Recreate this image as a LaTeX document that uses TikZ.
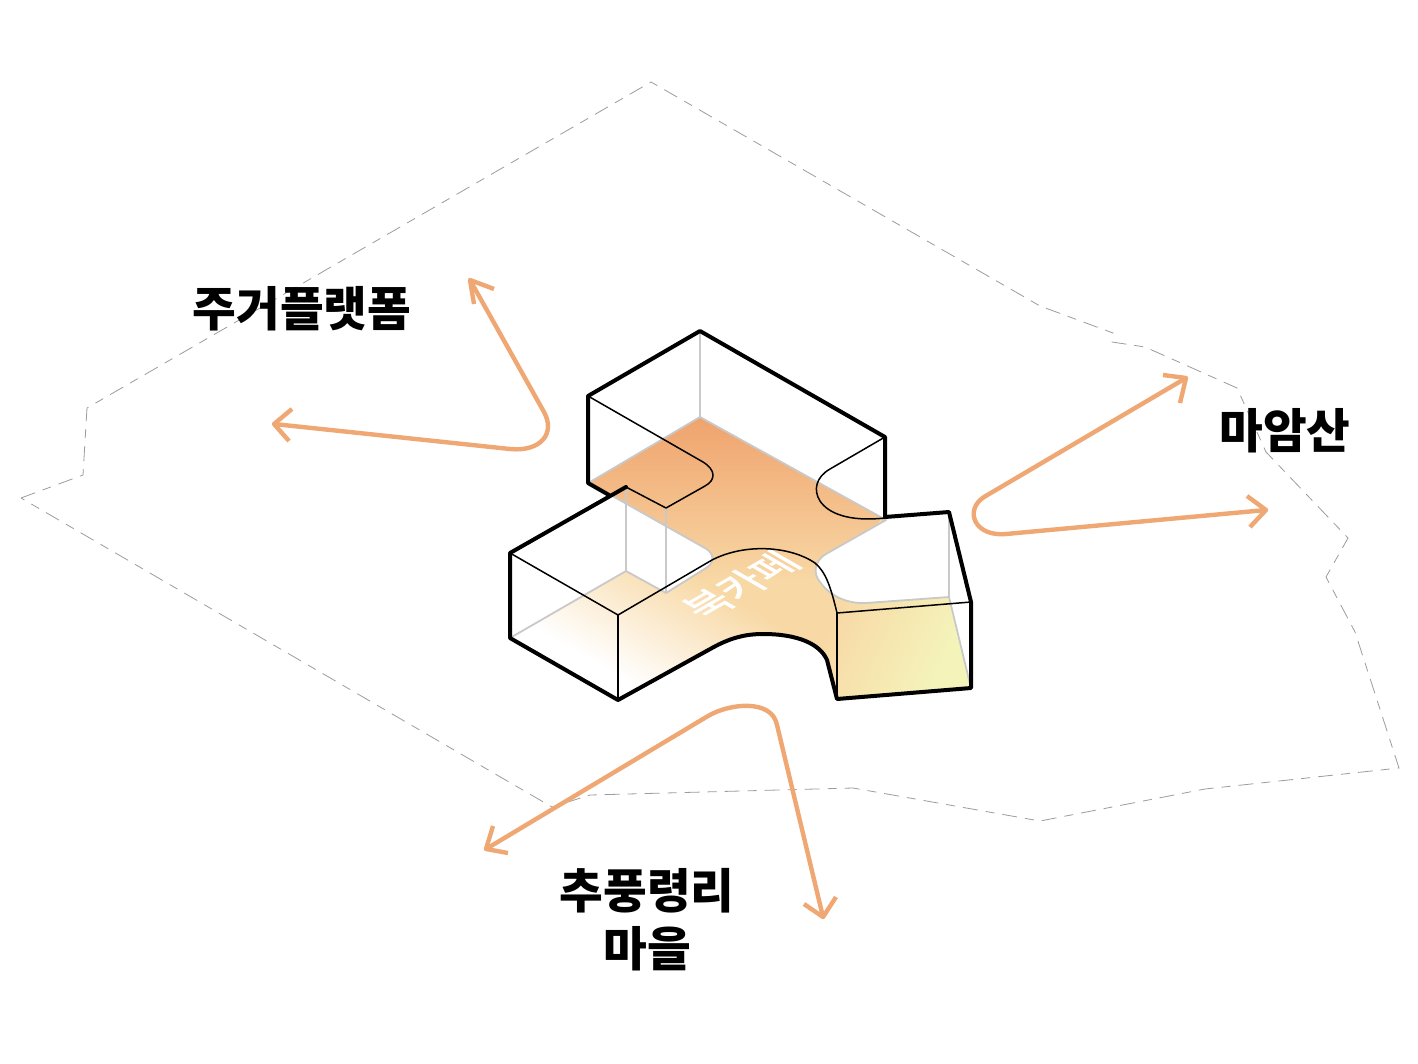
\documentclass[tikz,border=0pt]{standalone}
\usepackage{fontspec}
\newfontfamily\kr{Noto Sans CJK KR}
\newfontfamily\krm[FakeBold=1.5]{Noto Sans CJK KR}
\definecolor{arrowc}{HTML}{EFA873}
\definecolor{orangec}{HTML}{EFA16B}
\definecolor{floorc}{HTML}{F8D9A6}
\definecolor{yellowc}{HTML}{F4F4BA}
\definecolor{edgec}{HTML}{C9C9C9}
\definecolor{sitec}{HTML}{9C9C9C}
\tikzset{
  sitepath/.style={draw=sitec,line width=0.8pt,line join=miter,dash pattern=on 15pt off 8pt on 9pt off 8pt},
  flowpath/.style={draw=arrowc,line width=4.4pt,line join=round,line cap=butt},
  thickedge/.style={draw=black,line width=4pt,line join=round,line cap=round},
  thinedge/.style={draw=black,line width=1.5pt,line join=round,line cap=round},
  greyedge/.style={draw=edgec,line width=1.8pt,line join=round},
  bigtext/.style={font=\kr\bfseries\fontsize{47.5}{56}\selectfont,text=black,inner sep=0pt,align=center}
}
\begin{document}
\begin{tikzpicture}[x=1pt,y=-1pt]
\useasboundingbox (0,0) rectangle (1418,1063);
\fill[white] (0,0) rectangle (1418,1063);
% site boundary
\draw[sitepath] (21,498) -- (83,475) -- (87,408) -- (651,82) -- (1040,306) -- (1113,333) -- (1112,342) -- (1145,347) -- (1237,388) -- (1266,452) -- (1348,538) -- (1326,577) -- (1355,632) -- (1399,768) -- (1205,789) -- (1040,821) -- (853,788) -- (590,795) -- (552,807) -- cycle;
% flow arrows
\draw[flowpath] (470,280) -- (544,412) .. controls (556,434) and (540,452) .. (510,449) -- (274,424);
\draw[flowpath] (494,289) -- (470,280) -- (474,304);
\draw[flowpath] (292,409) -- (274,424) -- (289,441);
\draw[flowpath] (1186,378) -- (984,497) .. controls (964,510) and (974,537) .. (1006,534) -- (1266,510);
\draw[flowpath] (1163,375) -- (1186,378) -- (1180,403);
\draw[flowpath] (1247,496) -- (1266,510) -- (1250,527);
\draw[flowpath] (486,849) -- (708,716) .. controls (730,703) and (772,699) .. (777,725) -- (823,917);
\draw[flowpath] (493,826) -- (486,849) -- (508,853);
\draw[flowpath] (804,904) -- (823,917) -- (836,897);
% floor with gradients
\begin{scope}
\clip (700,417) -- (886,520) -- (826,554) .. controls (814,561) and (813,574) .. (820,582) .. controls (828,594) and (845,604) .. (866,603) -- (949,597) -- (971,688) -- (837,699) -- (827,660) .. controls (820,644) and (798,634) .. (763,634) .. controls (745,634) and (730,638) .. (712,648) -- (618,700) -- (510,638) -- (626,571) -- (666,593) -- (706,568) .. controls (716,562) and (714,552) .. (703,547) -- (590,482) -- cycle;
\fill[floorc] (480,400) rectangle (1000,720);
\shade[top color=orangec,bottom color=floorc] (480,411) rectangle (1000,583);
\fill[white,transform canvas={shift={(586pt,-586pt)},rotate=-30}] (-200,31) rectangle (200,170);
\shade[top color=floorc,bottom color=white,transform canvas={shift={(586pt,-586pt)},rotate=-30}] (-200,-62) rectangle (200,62);
\shade[left color=floorc,right color=yellowc,transform canvas={shift={(888pt,-645pt)},rotate=-25}] (-60,-110) rectangle (60,110);
\fill[yellowc,transform canvas={shift={(888pt,-645pt)},rotate=-25}] (59,-110) rectangle (180,110);
\end{scope}
% floor outline and hidden verticals
\draw[greyedge] (700,331) -- (700,417);
\draw[greyedge] (626,487) -- (626,571);
\draw[greyedge] (666,508) -- (666,593);
\draw[greyedge] (949,512) -- (949,597);
\draw[greyedge] (590,482) -- (700,417) -- (886,520) -- (826,554) .. controls (814,561) and (813,574) .. (820,582) .. controls (828,594) and (845,604) .. (866,603) -- (949,597) -- (971,688);
\draw[greyedge] (609,494) -- (703,547) .. controls (714,552) and (716,562) .. (706,568) -- (666,593) -- (626,571) -- (510,638);
% white label
\begin{scope}[shift={(741,585)},cm={0.866,0.5,-0.866,0.5,(0,0)}]
\node[transform shape,text=white,inner sep=0pt,font=\krm\fontsize{41}{46}\selectfont] (cafe) at (0,0) {북카페};
\end{scope}
% thin black edges
\draw[thinedge] (588,396) -- (703,462) .. controls (716,470) and (716,480) .. (705,486) -- (666,508) -- (626,487);
\draw[thinedge] (885,437) -- (830,469) .. controls (816,477) and (813,490) .. (820,501) .. controls (828,513) and (848,522) .. (885,518);
\draw[thinedge] (510,553) -- (618,615) -- (712,560) .. controls (745,543) and (790,546) .. (815,563) .. controls (826,572) and (831,588) .. (837,613);
\draw[thinedge] (618,615) -- (618,700);
\draw[thinedge] (837,613) -- (837,699);
\draw[thinedge] (837,613) -- (971,602);
% thick black edges
\draw[thickedge] (609,495) -- (588,483) -- (588,396) -- (700,331) -- (885,437) -- (885,517) -- (949,512) -- (971,602) -- (971,688) -- (837,699) -- (827,660) .. controls (820,644) and (798,634) .. (763,634) .. controls (745,634) and (730,638) .. (712,648) -- (618,700) -- (510,638) -- (510,553) -- (626,487);
% labels
\node[bigtext] (platform) at (302,309) {주거플랫폼};
\node[bigtext] (mountain) at (1285,431) {마암산};
\node[bigtext] (village) at (647,920) {추풍령리\\[2pt]마을};
\end{tikzpicture}
\end{document}
